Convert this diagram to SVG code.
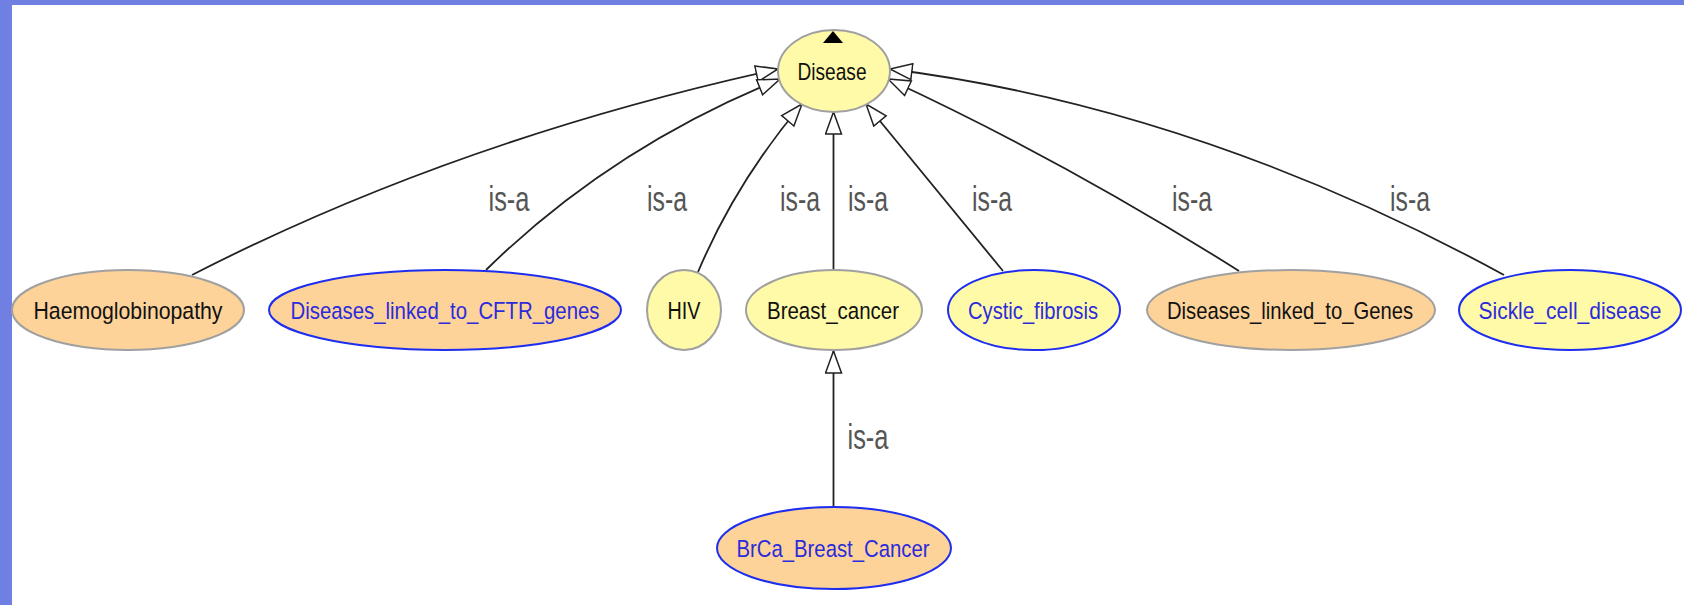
<svg xmlns="http://www.w3.org/2000/svg" width="1684" height="605" viewBox="0 0 1684 605">
  <style>
    .bg { fill: #ffffff; }
    .frame { fill: #6f80e2; }
    .node ellipse { stroke-width: 2; }
    .plain ellipse { stroke: #a0a0a0; }
    .linked ellipse { stroke: #1e2ef0; }
    .yellow ellipse { fill: #fffaa8; }
    .orange ellipse { fill: #fdd39a; }
    .node text { font-family: "Liberation Sans", Arial, sans-serif; font-size: 24.5px; text-anchor: middle; }
    .plain text { fill: #111111; }
    .linked text { fill: #2b2bdc; }
    .edge { fill: none; stroke: #222222; stroke-width: 1.8; marker-end: url(#isa-head); }
    .lbl { font-family: "Liberation Sans", Arial, sans-serif; font-size: 35px; fill: #555555; text-anchor: middle; }
  </style>
  <defs>
    <!-- hollow generalisation arrowhead -->
    <marker id="isa-head" markerUnits="userSpaceOnUse" markerWidth="26" markerHeight="20" refX="23" refY="9" orient="auto">
      <path d="M1,1 L23,9 L1,17 Z" fill="#ffffff" stroke="#222222" stroke-width="1.5"/>
    </marker>
  </defs>

  <rect class="bg" x="0" y="0" width="1684" height="605"/>
  <rect class="frame" x="0" y="0" width="1684" height="5"/>
  <rect class="frame" x="0" y="0" width="12" height="605"/>

  <g id="connectors">
    <path class="edge" d="M192,275 Q455,140 778,69"/>
    <path class="edge" d="M486,270 Q610,148 780,79"/>
    <path class="edge" d="M698,272 Q736,182 802,104"/>
    <path class="edge" d="M833.5,270 L833.5,112"/>
    <path class="edge" d="M1003,271 L866,104"/>
    <path class="edge" d="M1239,271 Q1065,161 888,79"/>
    <path class="edge" d="M1504,275 Q1198,108 890,69"/>
    <path class="edge" d="M833.5,507 L833.5,351"/>

    <text class="lbl" x="509" y="211" textLength="41" lengthAdjust="spacingAndGlyphs">is-a</text>
    <text class="lbl" x="667" y="211" textLength="40" lengthAdjust="spacingAndGlyphs">is-a</text>
    <text class="lbl" x="800" y="211" textLength="40" lengthAdjust="spacingAndGlyphs">is-a</text>
    <text class="lbl" x="868" y="211" textLength="40" lengthAdjust="spacingAndGlyphs">is-a</text>
    <text class="lbl" x="992" y="211" textLength="40" lengthAdjust="spacingAndGlyphs">is-a</text>
    <text class="lbl" x="1192" y="211" textLength="40" lengthAdjust="spacingAndGlyphs">is-a</text>
    <text class="lbl" x="1410" y="211" textLength="40" lengthAdjust="spacingAndGlyphs">is-a</text>
    <text class="lbl" x="868" y="449" textLength="41" lengthAdjust="spacingAndGlyphs">is-a</text>
  </g>

  <g id="Disease" class="node plain yellow">
    <ellipse cx="834" cy="71" rx="56" ry="41"/>
    <path d="M833,31 L843,43 L823,43 Z" fill="#000000"/>
    <text x="832" y="79.5" textLength="69" lengthAdjust="spacingAndGlyphs">Disease</text>
  </g>
  <g id="Haemoglobinopathy" class="node plain orange">
    <ellipse cx="128" cy="310" rx="116" ry="40"/>
    <text x="128" y="318.5" textLength="189" lengthAdjust="spacingAndGlyphs">Haemoglobinopathy</text>
  </g>
  <g id="Diseases_linked_to_CFTR_genes" class="node linked orange">
    <ellipse cx="445" cy="310" rx="176" ry="40"/>
    <text x="445" y="318.5" textLength="309" lengthAdjust="spacingAndGlyphs">Diseases_linked_to_CFTR_genes</text>
  </g>
  <g id="HIV" class="node plain yellow">
    <ellipse cx="684" cy="310" rx="37" ry="40"/>
    <text x="684" y="318.5" textLength="33" lengthAdjust="spacingAndGlyphs">HIV</text>
  </g>
  <g id="Breast_cancer" class="node plain yellow">
    <ellipse cx="834" cy="310" rx="88" ry="40"/>
    <text x="833" y="318.5" textLength="132" lengthAdjust="spacingAndGlyphs">Breast_cancer</text>
  </g>
  <g id="Cystic_fibrosis" class="node linked yellow">
    <ellipse cx="1034" cy="310" rx="86" ry="40"/>
    <text x="1033" y="318.5" textLength="130" lengthAdjust="spacingAndGlyphs">Cystic_fibrosis</text>
  </g>
  <g id="Diseases_linked_to_Genes" class="node plain orange">
    <ellipse cx="1291" cy="310" rx="144" ry="40"/>
    <text x="1290" y="318.5" textLength="246" lengthAdjust="spacingAndGlyphs">Diseases_linked_to_Genes</text>
  </g>
  <g id="Sickle_cell_disease" class="node linked yellow">
    <ellipse cx="1570" cy="310" rx="111" ry="40"/>
    <text x="1570" y="318.5" textLength="183" lengthAdjust="spacingAndGlyphs">Sickle_cell_disease</text>
  </g>
  <g id="BrCa_Breast_Cancer" class="node linked orange">
    <ellipse cx="834" cy="548" rx="117" ry="41"/>
    <text x="833" y="556.5" textLength="193" lengthAdjust="spacingAndGlyphs">BrCa_Breast_Cancer</text>
  </g>
</svg>
